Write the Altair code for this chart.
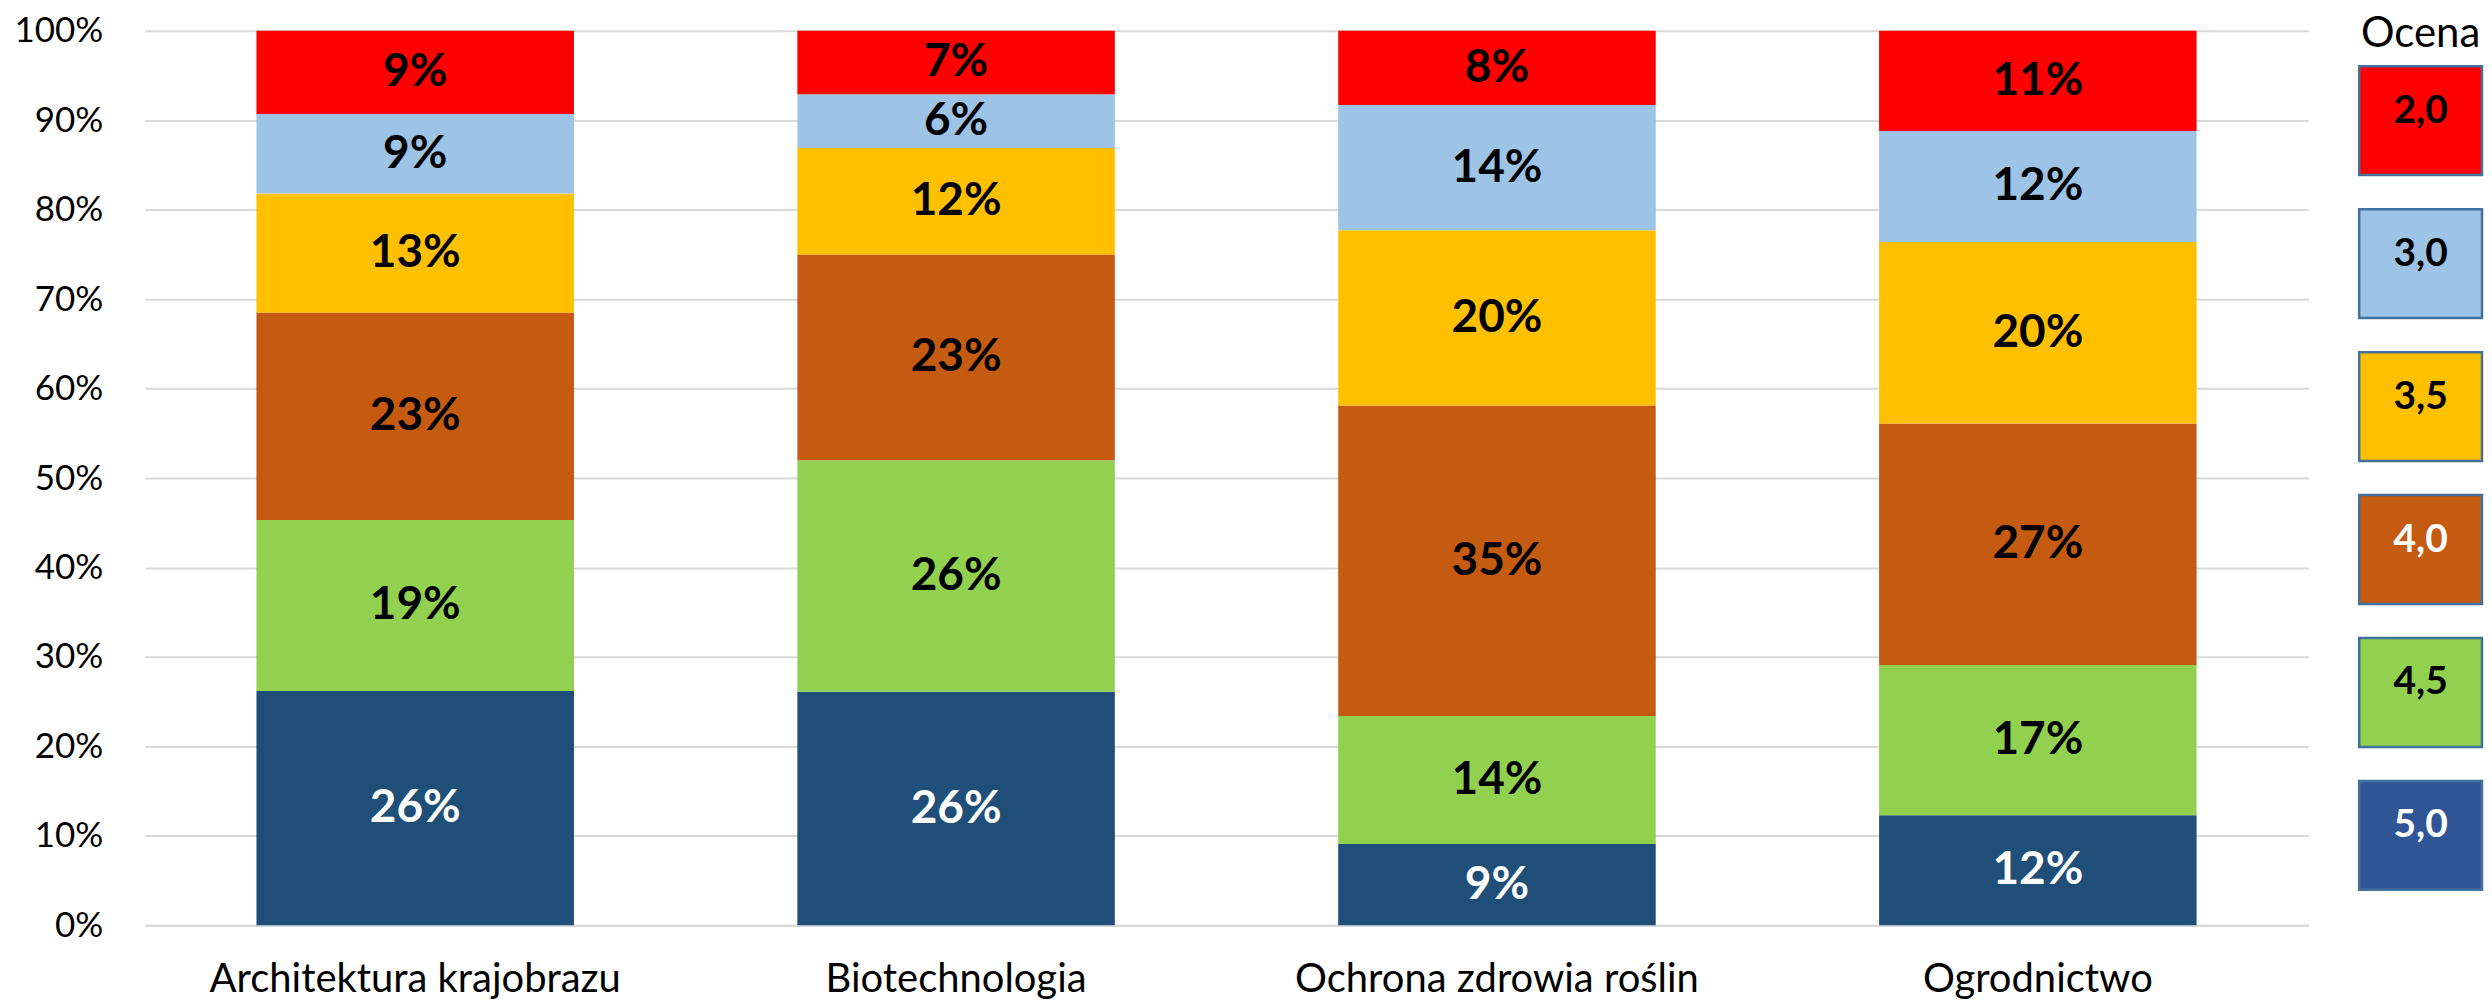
import altair as alt
import pandas as pd

categories = ["Architektura krajobrazu", "Biotechnologia", "Ochrona zdrowia roślin", "Ogrodnictwo"]
grades = ["5,0", "4,5", "4,0", "3,5", "3,0", "2,0"]  # bottom -> top

share_50 = [26.2, 26.1, 9.1, 12.3]
share_45 = [19.1, 25.9, 14.3, 16.8]
share_40 = [23.2, 23.0, 34.7, 27.0]
share_35 = [13.3, 11.9, 19.6, 20.3]
share_30 = [8.9, 6.0, 14.0, 12.4]
share_20 = [9.3, 7.1, 8.3, 11.2]
shares = [share_50, share_45, share_40, share_35, share_30, share_20]

bar_colors = ["#1F4E79", "#92D050", "#C55A11", "#FFC000", "#9DC3E6", "#FF0000"]
legend_colors = ["#2F5597", "#92D050", "#C55A11", "#FFC000", "#9DC3E6", "#FF0000"]
bar_text_colors = ["white", "black", "black", "black", "black", "black"]
legend_text_colors = ["white", "black", "white", "black", "black", "black"]
legend_title = "Ocena"
y_ticks = list(range(0, 101, 10))

rows = []
for gi, g in enumerate(grades):
    for ci, c in enumerate(categories):
        rows.append({"category": c, "grade": g, "ord": gi, "value": shares[gi][ci],
                     "bar_color": bar_colors[gi], "text_color": bar_text_colors[gi]})
df = pd.DataFrame(rows)

xenc = alt.X("category:N", sort=categories,
             scale=alt.Scale(paddingInner=0.413, paddingOuter=0.2065),
             axis=alt.Axis(title=None, labelAngle=0, labelFont="Lato", labelFontSize=40,
                           labelColor="#000000", labelPadding=34, labelLimit=0,
                           ticks=False, tickSize=0,
                           domain=True, domainColor="#D9D9D9", domainWidth=2, grid=False))

base = alt.Chart(df).transform_stack(
    stack="value", groupby=["category"], sort=[alt.SortField("ord", "ascending")], as_=["v0", "v1"]
).transform_calculate(
    mid="(datum.v0 + datum.v1) / 2",
    label="format(datum.value, '.0f') + '%'"
)

bars = base.mark_bar().encode(
    x=xenc,
    y=alt.Y("v0:Q", scale=alt.Scale(domain=[0, 100], nice=False),
            axis=alt.Axis(title=None, values=y_ticks, labelExpr="datum.value + '%'",
                          labelFont="Lato", labelFontSize=35, labelColor="#000000",
                          labelPadding=42, ticks=False, tickSize=0, domain=False,
                          grid=True, gridColor="#D9D9D9", gridWidth=2)),
    y2="v1:Q",
    color=alt.Color("bar_color:N", scale=None),
)

texts = base.mark_text(font="Lato", fontWeight="bold", fontSize=46).encode(
    x=alt.X("category:N", sort=categories),
    y=alt.Y("mid:Q"),
    text="label:N",
    color=alt.Color("text_color:N", scale=None),
)

main = alt.layer(bars, texts).properties(width=2167, height=896)

leg_df = pd.DataFrame({"grade": grades, "fill": legend_colors, "tc": legend_text_colors,
                       "col": [legend_title] * len(grades)})
ly = alt.Y("grade:N", sort=grades[::-1], axis=None,
           scale=alt.Scale(paddingInner=0.2388, paddingOuter=0.248))
lx = alt.X("col:N", axis=None, scale=alt.Scale(paddingInner=0, paddingOuter=0))

boxes = alt.Chart(leg_df).mark_rect(stroke="#41719C", strokeWidth=2.5).encode(
    x=lx, y=ly, fill=alt.Fill("fill:N", scale=None))
ltext = alt.Chart(leg_df).mark_text(font="Lato", fontWeight="bold", fontSize=39, dy=-10).encode(
    x=lx, y=ly, text="grade:N", fill=alt.Fill("tc:N", scale=None))
ltitle = alt.Chart(pd.DataFrame({"col": [legend_title]})).mark_text(
    font="Lato", fontSize=42, color="#000000", baseline="alphabetic"
).encode(x=lx, y=alt.value(16), text="col:N")

legend = alt.layer(boxes, ltext, ltitle).properties(width=123, height=896)

chart = alt.hconcat(main, legend, spacing=51, bounds="flush").properties(
    padding={"left": 6, "top": 4, "right": 0, "bottom": 0}
).configure(font="Lato").configure_view(stroke=None)

chart.save("out.html", embed_options={"renderer": "svg", "actions": False})
